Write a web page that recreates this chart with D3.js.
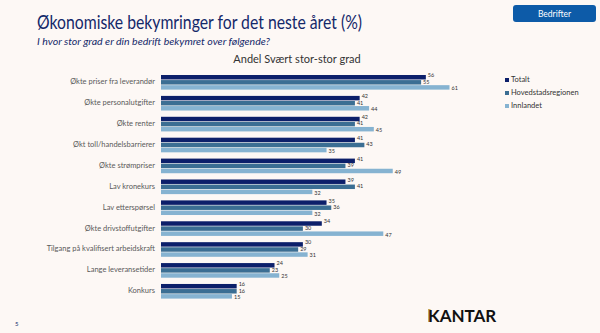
<!DOCTYPE html>
<html><head><meta charset="utf-8">
<script src="https://cdn.jsdelivr.net/npm/d3@7"></script>
<style>
body{margin:0;background:#fdf8f5;}
svg{display:block;font-family:Lato, "Open Sans", sans-serif;}
</style></head>
<body>
<svg id="c" width="600" height="333"></svg>
<script>
const categories = ["Økte priser fra leverandør","Økte personalutgifter","Økte renter","Økt toll/handelsbarrierer","Økte strømpriser","Lav kronekurs","Lav etterspørsel","Økte drivstoffutgifter","Tilgang på kvalifisert arbeidskraft","Lange leveransetider","Konkurs"];
const seriesNames = ["Totalt","Hovedstadsregionen","Innlandet"];
const totalt = [56,42,42,41,41,39,35,34,30,24,16];
const hoved  = [55,41,41,43,39,41,36,30,29,23,16];
const innlandet = [61,44,45,35,49,32,32,47,31,25,15];
const colors = ["#0c1f6a","#3b6e93","#86b3d1"];
const series = [totalt, hoved, innlandet];

const svg = d3.select("#c");
svg.append("rect").attr("width",600).attr("height",333).attr("fill","#fdf8f5");

// Title
svg.append("text").attr("x",37).attr("y",29).attr("fill","#14286a")
  .attr("font-size",19).attr("textLength",325).attr("lengthAdjust","spacingAndGlyphs")
  .text("Økonomiske bekymringer for det neste året (%)");
svg.append("text").attr("x",37).attr("y",45).attr("fill","#14286a")
  .attr("font-size",9).attr("font-style","italic").attr("textLength",233).attr("lengthAdjust","spacingAndGlyphs")
  .text("I hvor stor grad er din bedrift bekymret over følgende?");
svg.append("text").attr("x",297).attr("y",63).attr("text-anchor","middle").attr("fill","#333")
  .attr("font-size",11).text("Andel Svært stor-stor grad");

// Button
svg.append("rect").attr("x",513).attr("y",5).attr("width",83).attr("height",17).attr("rx",3).attr("fill","#0d5ba8");
svg.append("text").attr("x",554.5).attr("y",17).attr("text-anchor","middle").attr("fill","#fff")
  .attr("font-size",8.5).text("Bedrifter");

// Scales
const x = d3.scaleLinear().domain([0,61]).range([161,449.5]);
const y0 = d3.scaleBand().domain(categories).range([75,298.6]).paddingInner(0.3).paddingOuter(0);
const y1 = d3.scaleBand().domain(seriesNames).range([0,y0.bandwidth()]).paddingInner(0.12);

const g = svg.append("g");
categories.forEach((c,i)=>{
  const gg = g.append("g").attr("transform",`translate(0,${y0(c)})`);
  series.forEach((s,j)=>{
    gg.append("rect").attr("x",x(0)).attr("y",y1(seriesNames[j]))
      .attr("width",x(s[i])-x(0)).attr("height",y1.bandwidth()).attr("fill",colors[j]);
    gg.append("text").attr("x",x(s[i])+2).attr("y",y1(seriesNames[j])+y1.bandwidth()/2 + (j===0?-1.5:(j===2?1.5:0)))
      .attr("font-size",5.5).attr("fill","#333").attr("dominant-baseline","middle").text(s[i]);
  });
  svg.append("text").attr("x",155).attr("y",y0(c)+y0.bandwidth()/2).attr("dominant-baseline","middle")
    .attr("text-anchor","end").attr("font-size",7.5).attr("fill","#5a5a5a").text(c);
});

// Legend
seriesNames.forEach((n,j)=>{
  const ly = 80 + j*13;
  svg.append("rect").attr("x",505).attr("y",ly-2).attr("width",4).attr("height",4).attr("fill",colors[j]);
  svg.append("text").attr("x",511).attr("y",ly).attr("dominant-baseline","middle")
    .attr("font-size",7.5).attr("fill","#333").text(n);
});

// Logo
svg.append("rect").attr("x",428).attr("y",309).attr("width",2.5).attr("height",13).attr("fill","#c8a85a");
svg.append("text").attr("x",428).attr("y",322).attr("font-size",17).attr("font-weight","bold")
  .attr("fill","#111").attr("font-family","Lato, sans-serif").text("KANTAR");
svg.append("text").attr("x",15).attr("y",326).attr("font-size",6).attr("fill","#14286a").text("5");
</script>
</body></html>
